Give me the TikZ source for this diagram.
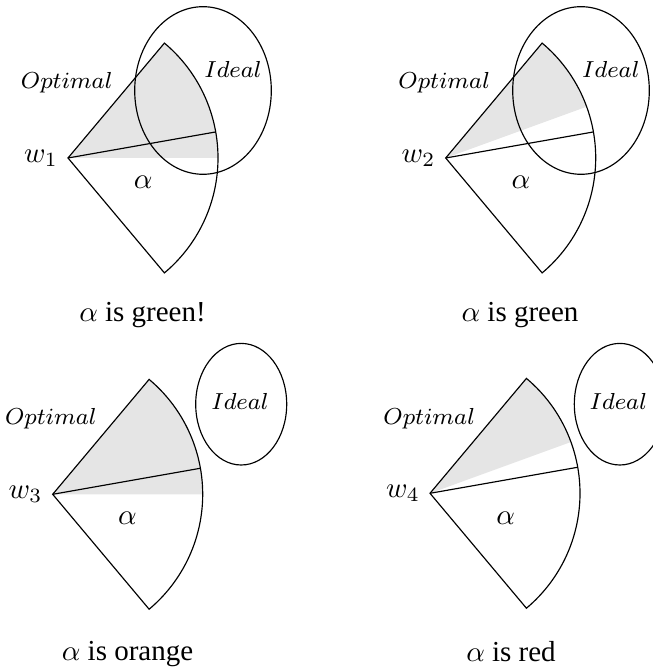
\documentclass[tikz,border=0pt]{standalone}
\usepackage[no-math]{fontspec}
\setmainfont{Liberation Serif}
\usepackage{amsmath,amssymb}
\usepackage{tikz}
\usetikzlibrary{calc}

\begin{document}
\begin{tikzpicture}[x=0.345pt, y=0.345pt,
  wedgefill/.style={fill=gray!20},
  lbl/.style={font=\footnotesize},
  captxt/.style={anchor=base}]
  \clip (0,0) rectangle (653,-669);
  % panel 1: wedge fully inside
  \coordinate (a1) at (68,-158);
  \fill[wedgefill] (a1) -- ++(0:150) arc[start angle=0, end angle=50, radius=150] -- cycle;
  \draw (203,-90.5) ellipse [x radius=68.3, y radius=83.8];
  \draw (a1) -- ++(50:150) arc[start angle=50, end angle=-50, radius=150] -- cycle;
  \draw (a1) -- ++(10:150);
  \node[lbl] (opt1) at (66.7,-83) {$Optimal$};
  \node[lbl] (id1) at (233,-69) {$Ideal$};
  \node[anchor=east] (w1) at (a1) {$w_1$};
  \node (al1) at (143.3,-182.5) {$\alpha$};
  \node[captxt] (c1) at (142.5,-322) {$\alpha$ is green!};
  % panel 2: wedge partly inside
  \coordinate (a2) at (445.7,-158);
  \fill[wedgefill] (a2) -- ++(20:150) arc[start angle=20, end angle=50, radius=150] -- cycle;
  \draw (581,-90.5) ellipse [x radius=68.3, y radius=83.8];
  \draw (a2) -- ++(50:150) arc[start angle=50, end angle=-50, radius=150] -- cycle;
  \draw (a2) -- ++(10:150);
  \node[lbl] (opt2) at (444.2,-83) {$Optimal$};
  \node[lbl] (id2) at (610.8,-69) {$Ideal$};
  \node[anchor=east] (w2) at (a2) {$w_2$};
  \node (al2) at (521,-182.5) {$\alpha$};
  \node[captxt] (c2) at (520,-322) {$\alpha$ is green};
  % panel 3: ideal outside, wedge full
  \coordinate (a3) at (52.7,-494.3);
  \fill[wedgefill] (a3) -- ++(0:150) arc[start angle=0, end angle=50, radius=150] -- cycle;
  \draw (241.2,-404.2) ellipse [x radius=45.5, y radius=60.8];
  \draw (a3) -- ++(50:150) arc[start angle=50, end angle=-50, radius=150] -- cycle;
  \draw (a3) -- ++(10:150);
  \node[lbl] (opt3) at (50.8,-418.3) {$Optimal$};
  \node[lbl] (id3) at (240,-401.7) {$Ideal$};
  \node[anchor=east] (w3) at (a3) {$w_3$};
  \node (al3) at (127.5,-518.3) {$\alpha$};
  \node[captxt] (c3) at (127.5,-660) {$\alpha$ is orange};
  % panel 4: ideal outside, wedge partial
  \coordinate (a4) at (430,-493.3);
  \fill[wedgefill] (a4) -- ++(20:150) arc[start angle=20, end angle=50, radius=150] -- cycle;
  \draw (619.8,-404.2) ellipse [x radius=45.5, y radius=60.8];
  \draw (a4) -- ++(50:150) arc[start angle=50, end angle=-50, radius=150] -- cycle;
  \draw (a4) -- ++(10:150);
  \node[lbl] (opt4) at (429.2,-418.3) {$Optimal$};
  \node[lbl] (id4) at (618.3,-401.7) {$Ideal$};
  \node[anchor=east] (w4) at (a4) {$w_4$};
  \node (al4) at (505.8,-518.3) {$\alpha$};
  \node[captxt] (c4) at (511,-661) {$\alpha$ is red};
\end{tikzpicture}
\end{document}
